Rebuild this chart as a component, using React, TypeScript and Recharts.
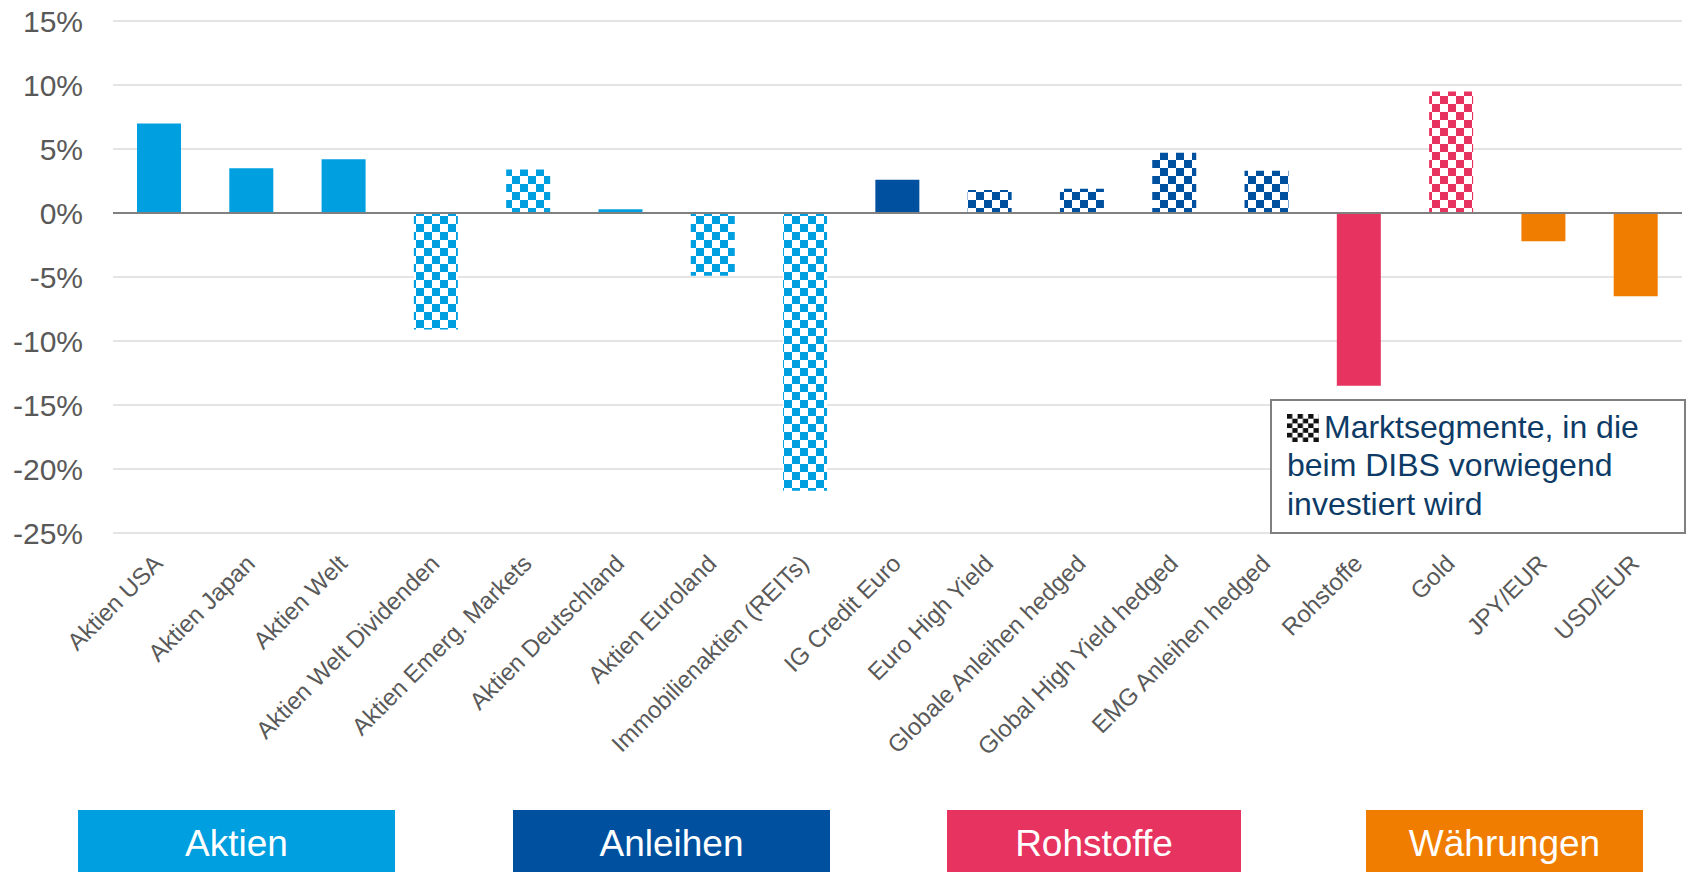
import { BarChart, Bar, Cell, XAxis, YAxis, CartesianGrid, ReferenceLine } from "recharts";

const categories = [
  "Aktien USA",
  "Aktien Japan",
  "Aktien Welt",
  "Aktien Welt Dividenden",
  "Aktien Emerg. Markets",
  "Aktien Deutschland",
  "Aktien Euroland",
  "Immobilienaktien (REITs)",
  "IG Credit Euro",
  "Euro High Yield",
  "Globale Anleihen hedged",
  "Global High Yield hedged",
  "EMG Anleihen hedged",
  "Rohstoffe",
  "Gold",
  "JPY/EUR",
  "USD/EUR",
];

const values = [7.0, 3.5, 4.2, -9.1, 3.4, 0.3, -4.9, -21.7, 2.6, 1.8, 1.9, 4.7, 3.3, -13.5, 9.5, -2.2, -6.5];

const groups = [
  "Aktien", "Aktien", "Aktien", "Aktien", "Aktien", "Aktien", "Aktien", "Aktien",
  "Anleihen", "Anleihen", "Anleihen", "Anleihen", "Anleihen",
  "Rohstoffe", "Rohstoffe",
  "Währungen", "Währungen",
];

// true = Marktsegment, in das beim DIBS vorwiegend investiert wird
const checkered = [false, false, false, true, true, false, true, true, false, true, true, true, true, false, true, false, false];

const yTicks = [-25, -20, -15, -10, -5, 0, 5, 10, 15];

const legendGroups = ["Aktien", "Anleihen", "Rohstoffe", "Währungen"];

const groupColors: Record<string, string> = {
  Aktien: "#009FE0",
  Anleihen: "#0050A0",
  Rohstoffe: "#E63360",
  Währungen: "#F07D00",
};
const patternIds: Record<string, string> = {
  Aktien: "chk-aktien",
  Anleihen: "chk-anleihen",
  Rohstoffe: "chk-rohstoffe",
  Währungen: "chk-waehrungen",
};

const data = categories.map((name, i) => ({ name, value: values[i], group: groups[i], chk: checkered[i] }));

const FONT = "'Liberation Sans', Arial, sans-serif";
const GRAY = "#595959";

// where the legend boxes sit at the bottom
const legendBoxes = [
  { left: 78, width: 317 },
  { left: 513, width: 317 },
  { left: 947, width: 294 },
  { left: 1366, width: 277 },
];

function CategoryTick(props: any) {
  const { x, y, payload } = props;
  const ax = x + 5;
  const ay = y + 32;
  return (
    <text
      x={ax}
      y={ay}
      transform={`rotate(-45, ${ax}, ${ay})`}
      textAnchor="end"
      fontSize={24}
      fontFamily={FONT}
      fill={GRAY}
    >
      {payload.value}
    </text>
  );
}

function CheckerIcon() {
  return (
    <svg width={32} height={28} style={{ verticalAlign: "-4px", marginRight: 5 }}>
      <defs>
        <pattern id="chk-icon" width={10.6} height={9.4} patternUnits="userSpaceOnUse">
          <rect width={10.6} height={9.4} fill="#fff" />
          <rect x={0} y={0} width={5.3} height={4.7} fill="#111" />
          <rect x={5.3} y={4.7} width={5.3} height={4.7} fill="#111" />
        </pattern>
      </defs>
      <rect width={32} height={28} fill="url(#chk-icon)" />
    </svg>
  );
}

export default function App() {
  return (
    <div
      style={{
        position: "fixed",
        left: 0,
        top: 0,
        width: 1688,
        height: 872,
        overflow: "hidden",
        background: "#fff",
        fontFamily: FONT,
      }}
    >
      <BarChart width={1688} height={872} data={data} margin={{ top: 21, right: 6, left: 0, bottom: 139 }}>
        <defs>
          {legendGroups.map((g) => (
            <pattern key={g} id={patternIds[g]} width={16} height={16} patternUnits="userSpaceOnUse">
              <rect width={16} height={16} fill="#fff" />
              <rect x={0} y={0} width={8} height={8} fill={groupColors[g]} />
              <rect x={8} y={8} width={8} height={8} fill={groupColors[g]} />
            </pattern>
          ))}
        </defs>
        <CartesianGrid vertical={false} stroke="#e4e4e4" strokeWidth={2} />
        <XAxis
          dataKey="name"
          height={200}
          interval={0}
          axisLine={false}
          tickLine={false}
          tickSize={0}
          tickMargin={0}
          tick={<CategoryTick />}
        />
        <YAxis
          width={113}
          domain={[-25, 15]}
          ticks={yTicks}
          tickFormatter={(v: number) => `${v}%`}
          axisLine={false}
          tickLine={false}
          tickSize={0}
          tickMargin={30}
          tick={{ fontSize: 30, fill: GRAY, fontFamily: FONT }}
        />
        <Bar dataKey="value" barSize={44} isAnimationActive={false}>
          {data.map((d, i) => (
            <Cell key={i} fill={d.chk ? `url(#${patternIds[d.group]})` : groupColors[d.group]} />
          ))}
        </Bar>
        <ReferenceLine y={0} stroke="#808080" strokeWidth={2} />
      </BarChart>

      <div
        style={{
          position: "absolute",
          left: 1270,
          top: 399,
          width: 416,
          height: 135,
          boxSizing: "border-box",
          border: "2px solid #7f7f7f",
          background: "#fff",
          padding: "7px 0 0 15px",
          fontSize: 32,
          lineHeight: "38.3px",
          color: "#0d3b66",
          whiteSpace: "nowrap",
        }}
      >
        <CheckerIcon />
        Marktsegmente, in die
        <br />
        beim DIBS vorwiegend
        <br />
        investiert wird
      </div>

      {legendGroups.map((g, i) => (
        <div
          key={g}
          style={{
            position: "absolute",
            left: legendBoxes[i].left,
            top: 810,
            width: legendBoxes[i].width,
            height: 62,
            overflow: "hidden",
            background: groupColors[g],
            color: "#fff",
            fontSize: 37,
            lineHeight: "68px",
            textAlign: "center",
          }}
        >
          {g}
        </div>
      ))}
    </div>
  );
}
